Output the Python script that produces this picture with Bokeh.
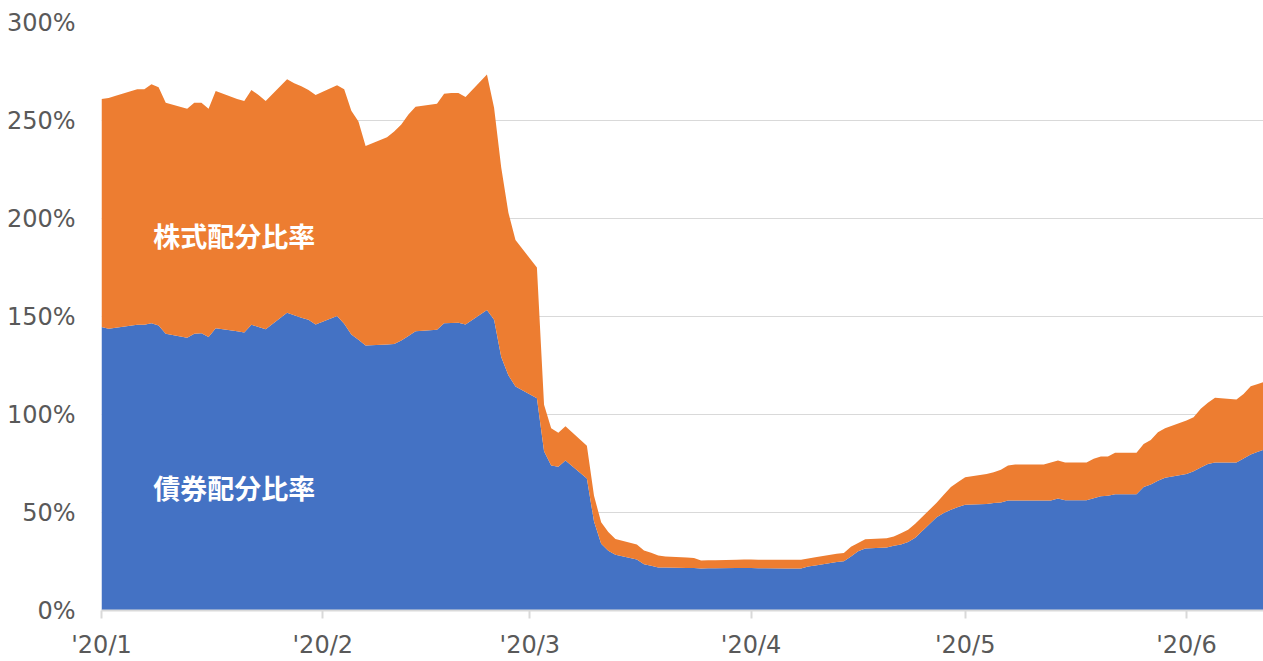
import pandas as pd
from datetime import datetime
from bokeh.plotting import figure
from bokeh.models import ColumnDataSource, Range1d, FixedTicker, PrintfTickFormatter
from bokeh.core.properties import value
from bokeh.embed import file_html
from bokeh.resources import INLINE

# ---- data (business days, 2020) ----
dates = [
    "2020-01-01", "2020-01-02", "2020-01-03", "2020-01-06", "2020-01-07", "2020-01-08", "2020-01-09", "2020-01-10",
    "2020-01-13", "2020-01-14", "2020-01-15", "2020-01-16", "2020-01-17", "2020-01-20", "2020-01-21", "2020-01-22",
    "2020-01-23", "2020-01-24", "2020-01-27", "2020-01-28", "2020-01-29", "2020-01-30", "2020-01-31",
    "2020-02-03", "2020-02-04", "2020-02-05", "2020-02-06", "2020-02-07", "2020-02-10", "2020-02-11", "2020-02-12",
    "2020-02-13", "2020-02-14", "2020-02-17", "2020-02-18", "2020-02-19", "2020-02-20", "2020-02-21", "2020-02-24",
    "2020-02-25", "2020-02-26", "2020-02-27", "2020-02-28",
    "2020-03-02", "2020-03-03", "2020-03-04", "2020-03-05", "2020-03-06", "2020-03-09", "2020-03-10", "2020-03-11",
    "2020-03-12", "2020-03-13", "2020-03-16", "2020-03-17", "2020-03-18", "2020-03-19", "2020-03-20", "2020-03-23",
    "2020-03-24", "2020-03-25", "2020-03-26", "2020-03-27", "2020-03-30", "2020-03-31",
    "2020-04-01", "2020-04-02", "2020-04-03", "2020-04-06", "2020-04-07", "2020-04-08", "2020-04-09", "2020-04-10",
    "2020-04-13", "2020-04-14", "2020-04-15", "2020-04-16", "2020-04-17", "2020-04-20", "2020-04-21", "2020-04-22",
    "2020-04-23", "2020-04-24", "2020-04-27", "2020-04-28", "2020-04-29", "2020-04-30",
    "2020-05-01", "2020-05-04", "2020-05-05", "2020-05-06", "2020-05-07", "2020-05-08", "2020-05-11", "2020-05-12",
    "2020-05-13", "2020-05-14", "2020-05-15", "2020-05-18", "2020-05-19", "2020-05-20", "2020-05-21", "2020-05-22",
    "2020-05-25", "2020-05-26", "2020-05-27", "2020-05-28", "2020-05-29",
    "2020-06-01", "2020-06-02", "2020-06-03", "2020-06-04", "2020-06-05", "2020-06-08", "2020-06-09", "2020-06-10",
    "2020-06-11", "2020-06-12",
]

# 債券配分比率 (%)
bond = [
    144.6, 143.7, 144.3, 145.8, 145.8, 146.6, 145.4, 141.2,
    139.1, 141.2, 141.5, 139.5, 144.0, 142.5, 141.8, 145.8,
    144.6, 143.5, 151.9, 150.6, 149.3, 148.3, 145.9,
    150.3, 146.3, 140.8, 138.1, 135.2, 135.7, 136.0, 137.8,
    140.0, 142.5, 143.2, 146.6, 146.7, 146.8, 145.9, 153.3,
    148.3, 129.4, 120.0, 114.3,
    108.3, 81.3, 74.0, 73.3, 76.5, 67.4, 45.4, 34.0,
    30.5, 28.4, 26.0, 23.6, 22.8, 22.0, 21.9, 21.7,
    21.7, 21.4, 21.5, 21.6, 21.7, 21.7,
    21.7, 21.6, 21.5, 21.4, 21.4, 21.4, 22.4, 23.0,
    24.8, 25.1, 27.5, 30.2, 31.6, 32.1, 33.0, 33.7,
    34.9, 37.1, 47.6, 49.8, 51.4, 52.8,
    53.9, 54.4, 54.8, 55.1, 56.1, 56.1, 56.1, 56.1,
    56.1, 57.1, 56.3, 56.3, 57.3, 58.3, 58.5, 59.3,
    59.3, 63.0, 64.3, 66.2, 67.7,
    69.7, 71.0, 73.0, 74.8, 75.5, 75.5, 77.5, 79.6,
    81.0, 82.3,
]

# 株式配分比率 (%)
stock = [
    116.4, 117.8, 118.3, 120.2, 120.2, 121.9, 121.6, 117.8,
    116.9, 117.8, 117.5, 116.5, 121.0, 118.5, 118.2, 119.8,
    118.4, 116.5, 119.1, 118.4, 118.2, 117.3, 117.1,
    117.7, 119.7, 114.2, 111.4, 101.8, 105.8, 108.4, 110.2,
    113.0, 114.5, 115.3, 117.0, 117.3, 117.2, 116.1, 120.2,
    108.2, 96.6, 83.0, 74.7,
    66.7, 23.7, 19.0, 17.4, 17.5, 16.6, 13.1, 11.0,
    9.5, 8.1, 7.7, 7.0, 6.7, 6.0, 5.7, 5.3,
    5.1, 4.1, 4.1, 4.1, 4.2, 4.3,
    4.3, 4.3, 4.4, 4.5, 4.5, 4.5, 4.1, 4.2,
    4.2, 4.2, 5.0, 4.3, 4.7, 4.7, 4.8, 5.7,
    6.3, 7.1, 7.4, 9.2, 11.6, 12.7,
    14.1, 15.3, 15.7, 16.7, 17.9, 18.4, 18.4, 18.4,
    19.4, 19.4, 19.2, 19.2, 20.1, 20.3, 20.1, 21.2,
    21.2, 22.0, 22.7, 24.8, 25.3,
    27.3, 27.6, 29.9, 31.2, 33.0, 32.2, 33.0, 34.8,
    34.6, 34.5,
]

series_labels = ["債券配分比率", "株式配分比率"]
month_ticks = ["2020-01-01", "2020-02-01", "2020-03-01", "2020-04-01", "2020-05-01", "2020-06-01"]
month_labels = ["'20/1", "'20/2", "'20/3", "'20/4", "'20/5", "'20/6"]
y_ticks = [0, 50, 100, 150, 200, 250, 300]

BLUE = "#4472C4"
ORANGE = "#ED7D31"
GRID = "#D9D9D9"
TXT = "#595959"

src = ColumnDataSource(dict(date=pd.to_datetime(dates), bond=bond, stock=stock))

p = figure(
    width=1263, height=661,
    x_axis_type="datetime",
    x_range=Range1d(datetime(2020, 1, 1), datetime(2020, 6, 11, 19)),
    y_range=Range1d(0, 300),
    output_backend="svg", toolbar_location=None,
    min_border_left=101, min_border_right=0, min_border_top=22, min_border_bottom=51,
)
p.outline_line_color = None
p.background_fill_color = "white"
p.border_fill_color = "white"

p.varea_stack(["bond", "stock"], x="date", color=[BLUE, ORANGE], source=src)

# labels inside the areas
lab_x = [datetime(2020, 1, 19, 14), datetime(2020, 1, 19, 14)]
lab_y = [62.8, 191.5]
p.text(x=lab_x, y=lab_y, text=series_labels, text_color="white",
       text_font=value("Noto Sans CJK JP"), text_font_style="bold",
       text_font_size="27px", text_align="center", text_baseline="middle")

# grid
p.xgrid.grid_line_color = None
p.ygrid.grid_line_color = GRID
p.ygrid.grid_line_width = 1
p.ygrid.ticker = FixedTicker(ticks=y_ticks)

# y axis
p.yaxis.ticker = FixedTicker(ticks=y_ticks)
p.yaxis.formatter = PrintfTickFormatter(format="%d%%")
p.yaxis.axis_line_color = None
p.yaxis.major_tick_line_color = None
p.yaxis.minor_tick_line_color = None
p.yaxis.major_label_text_color = TXT
p.yaxis.major_label_text_font = "DejaVu Sans"
p.yaxis.major_label_text_font_size = "24px"
p.yaxis.major_label_standoff = 20

# x axis
tick_ms = [pd.Timestamp(d).value / 1e6 for d in month_ticks]
p.xaxis.ticker = FixedTicker(ticks=tick_ms)
p.xaxis.major_label_overrides = {t: l for t, l in zip(tick_ms, month_labels)}
p.xaxis.axis_line_color = GRID
p.xaxis.axis_line_width = 2
p.xaxis.major_tick_line_color = GRID
p.xaxis.major_tick_line_width = 2
p.xaxis.major_tick_out = 8
p.xaxis.major_tick_in = 0
p.xaxis.minor_tick_line_color = None
p.xaxis.major_label_text_color = TXT
p.xaxis.major_label_text_font = "DejaVu Sans"
p.xaxis.major_label_text_font_size = "24px"
p.xaxis.major_label_standoff = 12

open("out.html", "w").write(file_html(p, INLINE))
